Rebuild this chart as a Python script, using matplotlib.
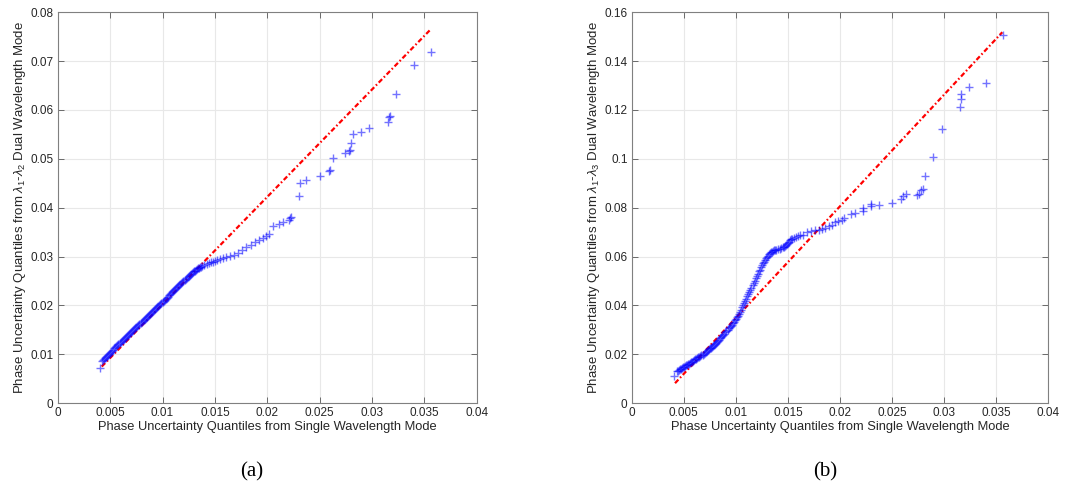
import numpy as np
import matplotlib.pyplot as plt
from matplotlib.ticker import FuncFormatter

plt.rcParams['font.family'] = ['Liberation Sans', 'DejaVu Sans']
plt.rcParams['mathtext.fontset'] = 'custom'
plt.rcParams['mathtext.rm'] = 'Liberation Sans'
plt.rcParams['mathtext.it'] = 'Liberation Sans:italic'

# ---- panel (a): lambda1-lambda2 vs single wavelength quantiles ----
qa_x = [0.0040,
        0.0042, 0.0043, 0.0044, 0.0045, 0.0046, 0.0047, 0.0048, 0.0049, 0.0050, 0.0051,
        0.0052, 0.0053, 0.0054, 0.0055, 0.0056, 0.0057, 0.0058, 0.0059, 0.0060, 0.0061,
        0.0062, 0.0063, 0.0064, 0.0065, 0.0066, 0.0067, 0.0068, 0.0069, 0.0070, 0.0071,
        0.0072, 0.0073, 0.0074, 0.0075, 0.0076, 0.0077, 0.0078, 0.0079, 0.0080, 0.0081,
        0.0082, 0.0083, 0.0084, 0.0085, 0.0086, 0.0087, 0.0088, 0.0089, 0.0090, 0.0091,
        0.0092, 0.0093, 0.0094, 0.0095, 0.0096, 0.0097, 0.0098, 0.0099, 0.0100, 0.0101,
        0.0102, 0.0103, 0.0104, 0.0105, 0.0106, 0.0107, 0.0108, 0.0109, 0.0110, 0.0111,
        0.0112, 0.0113, 0.0114, 0.0115, 0.0116, 0.0117, 0.0118, 0.0119, 0.0120, 0.0121,
        0.0122, 0.0123, 0.0124, 0.0125, 0.0126, 0.0127, 0.0128, 0.0129, 0.0130, 0.0131,
        0.0132, 0.0133, 0.0134, 0.0135, 0.0136, 0.0137,
        0.0138, 0.0140, 0.0142, 0.0144, 0.0146, 0.0148, 0.0150, 0.0152, 0.0155, 0.0158,
        0.0161, 0.0164, 0.0168, 0.0172, 0.0176, 0.0180, 0.0184, 0.0188, 0.0192, 0.0196,
        0.0199, 0.0202, 0.0205, 0.0211, 0.0215, 0.0221, 0.0222, 0.0223,
        0.0230, 0.0231, 0.0237, 0.0250, 0.0259, 0.0260, 0.0263, 0.0274, 0.0278, 0.0279,
        0.0280, 0.0282, 0.0289, 0.0297, 0.0315, 0.0316, 0.0317, 0.0323, 0.0340, 0.0356]
qa_y = [0.0073,
        0.00870, 0.00891, 0.00912, 0.00933, 0.00953, 0.00974, 0.00995, 0.01016, 0.01037, 0.01058,
        0.01078, 0.01099, 0.01120, 0.01141, 0.01162, 0.01183, 0.01203, 0.01224, 0.01245, 0.01266,
        0.01287, 0.01308, 0.01328, 0.01349, 0.01370, 0.01391, 0.01412, 0.01433, 0.01454, 0.01474,
        0.01495, 0.01516, 0.01537, 0.01558, 0.01579, 0.01599, 0.01620, 0.01641, 0.01662, 0.01683,
        0.01704, 0.01724, 0.01745, 0.01766, 0.01787, 0.01808, 0.01829, 0.01849, 0.01870, 0.01891,
        0.01912, 0.01933, 0.01954, 0.01974, 0.01995, 0.02016, 0.02037, 0.02058, 0.02079, 0.02100,
        0.02120, 0.02141, 0.02162, 0.02183, 0.02204, 0.02225, 0.02245, 0.02266, 0.02287, 0.02308,
        0.02329, 0.02350, 0.02370, 0.02391, 0.02412, 0.02433, 0.02454, 0.02475, 0.02495, 0.02516,
        0.02537, 0.02558, 0.02579, 0.02600, 0.02620, 0.02641, 0.02660, 0.02680, 0.02698, 0.02715,
        0.02730, 0.02745, 0.02758, 0.02770, 0.02780, 0.02790,
        0.0281, 0.0283, 0.0285, 0.0286, 0.0288, 0.0289, 0.0291, 0.0292, 0.0295, 0.0297,
        0.0299, 0.0301, 0.0304, 0.0308, 0.0313, 0.0319, 0.0324, 0.0329, 0.0334, 0.0339,
        0.0342, 0.0346, 0.0362, 0.0367, 0.0371, 0.0375, 0.0378, 0.0380,
        0.0423, 0.0450, 0.0456, 0.0465, 0.0475, 0.0477, 0.0501, 0.0511, 0.0515, 0.0518,
        0.0533, 0.0550, 0.0555, 0.0564, 0.0575, 0.0586, 0.0588, 0.0632, 0.0692, 0.0718]
ref_a_x = [0.0042, 0.0356]
ref_a_y = [0.0075, 0.0765]

# ---- panel (b): lambda1-lambda3 vs single wavelength quantiles ----
qb_x = [0.0041,
        0.0043, 0.0044, 0.0045, 0.0046, 0.0047, 0.0048, 0.0049, 0.0050, 0.0051, 0.0052,
        0.0053, 0.0054, 0.0055, 0.0056, 0.0057, 0.0058, 0.0059, 0.0060, 0.0061, 0.0062,
        0.0063, 0.0064, 0.0065, 0.0066, 0.0067, 0.0068, 0.0069, 0.0070, 0.0071, 0.0072,
        0.0073, 0.0074, 0.0075, 0.0076, 0.0077, 0.0078, 0.0079, 0.0080, 0.0081, 0.0082,
        0.0083, 0.0084, 0.0085, 0.0086, 0.0087, 0.0088, 0.0089, 0.0090, 0.0091, 0.0092,
        0.0093, 0.0094, 0.0095, 0.0096, 0.0097, 0.0098, 0.0099, 0.0100, 0.0101, 0.0102,
        0.0103, 0.0104, 0.0105, 0.0106, 0.0107, 0.0108, 0.0109, 0.0110, 0.0111, 0.0112,
        0.0113, 0.0114, 0.0115, 0.0116, 0.0117, 0.0118, 0.0119, 0.0120, 0.0121, 0.0122,
        0.0123, 0.0124, 0.0125, 0.0126, 0.0127, 0.0128, 0.0129, 0.0130, 0.0131, 0.0132,
        0.0133, 0.0134, 0.0135, 0.0136, 0.0137, 0.0138, 0.0139, 0.0140, 0.0142, 0.0143,
        0.0145, 0.0146, 0.0147, 0.0148, 0.0149, 0.0150, 0.0151, 0.0152, 0.0153, 0.0154,
        0.0156, 0.0158, 0.0160, 0.0162, 0.0164, 0.0168, 0.0172, 0.0176, 0.0180, 0.0183,
        0.0186, 0.0189, 0.0192, 0.0195, 0.0198, 0.0202, 0.0204, 0.0211, 0.0214, 0.0222,
        0.0222, 0.0230, 0.0230, 0.0237, 0.0250, 0.0259, 0.0260, 0.0263, 0.0274, 0.0276,
        0.0278, 0.0280, 0.0282, 0.0289, 0.0298, 0.0315, 0.0316, 0.0316, 0.0324, 0.0340,
        0.0356]
qb_y = [0.0113,
        0.01300, 0.01330, 0.01360, 0.01390, 0.01415, 0.01440, 0.01470, 0.01500, 0.01525, 0.01550,
        0.01575, 0.01600, 0.01625, 0.01650, 0.01680, 0.01705, 0.01730, 0.01760, 0.01790, 0.01815,
        0.01845, 0.01875, 0.01900, 0.01930, 0.01960, 0.01990, 0.02020, 0.02055, 0.02090, 0.02125,
        0.02165, 0.02200, 0.02240, 0.02275, 0.02310, 0.02350, 0.02390, 0.02430, 0.02475, 0.02515,
        0.02560, 0.02605, 0.02650, 0.02700, 0.02750, 0.02800, 0.02850, 0.02900, 0.02950, 0.03005,
        0.03060, 0.03110, 0.03165, 0.03220, 0.03280, 0.03335, 0.03395, 0.03450, 0.03510, 0.0358,
        0.0366, 0.0374, 0.0383, 0.0392, 0.0401, 0.0410, 0.0419, 0.0428, 0.0437, 0.0446,
        0.0455, 0.0464, 0.0473, 0.0482, 0.0492, 0.0502, 0.0511, 0.0521, 0.0530, 0.0539,
        0.0547, 0.0556, 0.0564, 0.0572, 0.0579, 0.0586, 0.0593, 0.0599, 0.0604, 0.0609,
        0.0613, 0.0617, 0.0620, 0.0623, 0.0625, 0.0627, 0.0629, 0.0631, 0.0633, 0.0635,
        0.0638, 0.0640, 0.0644, 0.0648, 0.0652, 0.0657, 0.0661, 0.0666, 0.0670, 0.0674,
        0.0678, 0.0682, 0.0685, 0.0688, 0.0690, 0.0699, 0.0703, 0.0707, 0.0710, 0.0712,
        0.0716, 0.0724, 0.0731, 0.0743, 0.0746, 0.0750, 0.0757, 0.0776, 0.0780, 0.0787,
        0.0798, 0.0808, 0.0816, 0.0813, 0.0821, 0.0835, 0.0846, 0.0855, 0.0853, 0.0857,
        0.0873, 0.0877, 0.0930, 0.1007, 0.1120, 0.1214, 0.1244, 0.1266, 0.1293, 0.1311,
        0.1505]
ref_b_x = [0.00416, 0.03558]
ref_b_y = [0.0082, 0.1518]

xticks = [0, 0.005, 0.01, 0.015, 0.02, 0.025, 0.03, 0.035, 0.04]
yticks_a = [0, 0.01, 0.02, 0.03, 0.04, 0.05, 0.06, 0.07, 0.08]
yticks_b = [0, 0.02, 0.04, 0.06, 0.08, 0.1, 0.12, 0.14, 0.16]

xlab = "Phase Uncertainty Quantiles from Single Wavelength Mode"
ylab_a = r"Phase Uncertainty Quantiles from $\lambda_1$-$\lambda_2$ Dual Wavelength Mode"
ylab_b = r"Phase Uncertainty Quantiles from $\lambda_1$-$\lambda_3$ Dual Wavelength Mode"

fig = plt.figure(figsize=(10.83, 4.87), dpi=100)
ax_a = fig.add_axes([0.0533, 0.172, 0.387, 0.803])
ax_b = fig.add_axes([0.5833, 0.172, 0.3847, 0.803])

fmt = FuncFormatter(lambda v, p: f"{v:g}")
tc = '#262626'

def draw(ax, qx, qy, rx, ry, yt, ylab, cap, capx):
    ax.plot(rx, ry, color='red', ls=(0, (2.2, 1.1, 0.7, 1.1)), lw=1.6, zorder=2)
    ax.plot(qx, qy, ls='none', marker='+', ms=5.4, mew=1.0, color='#0000ff', alpha=0.55, zorder=3)
    ax.set_xlim(0, 0.04)
    ax.set_ylim(yt[0], yt[-1])
    ax.set_xticks(xticks)
    ax.set_yticks(yt)
    ax.xaxis.set_major_formatter(fmt)
    ax.yaxis.set_major_formatter(fmt)
    ax.grid(True, color='#e8e8e8', lw=0.8)
    ax.set_axisbelow(True)
    ax.tick_params(direction='in', top=True, right=True, length=4, width=0.6,
                   colors='#555555', labelcolor=tc, labelsize=8.5, pad=3)
    for s in ax.spines.values():
        s.set_color('#808080')
        s.set_linewidth(0.8)
    ax.set_xlabel(xlab, fontsize=9.3, color=tc, labelpad=1)
    ax.set_ylabel(ylab, fontsize=9.5, color=tc, labelpad=2)
    fig.text(capx, 0.031, cap, ha='center', va='center', fontsize=15,
             family=['Liberation Serif', 'DejaVu Serif'])

draw(ax_a, qa_x, qa_y, ref_a_x, ref_a_y, yticks_a, ylab_a, "(a)", 252 / 1083)
draw(ax_b, qb_x, qb_y, ref_b_x, ref_b_y, yticks_b, ylab_b, "(b)", 825 / 1083)

fig.savefig("out.png", dpi=100)
